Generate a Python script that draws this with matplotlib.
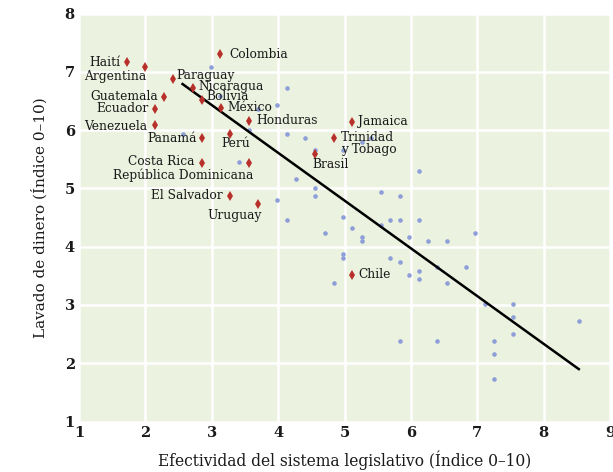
import matplotlib
matplotlib.use("Agg")
import matplotlib.pyplot as plt

# named countries (red diamonds)
paises = ["Haití", "Argentina", "Paraguay", "Nicaragua", "Bolivia", "México",
          "Colombia", "Guatemala", "Ecuador", "Venezuela", "Honduras", "Panamá",
          "Perú", "Costa Rica", "República Dominicana", "El Salvador", "Uruguay",
          "Jamaica", "Trinidad\ny Tobago", "Brasil", "Chile"]
paises_x = [1.72, 1.99, 2.42, 2.71, 2.85, 3.14, 3.13, 2.28, 2.14, 2.14, 3.56, 2.85,
            3.27, 2.85, 3.56, 3.27, 3.70, 5.12, 4.84, 4.55, 5.12]
paises_y = [7.16, 7.08, 6.87, 6.73, 6.52, 6.38, 7.30, 6.57, 6.37, 6.08, 6.16, 5.87,
            5.93, 5.44, 5.44, 4.87, 4.73, 6.14, 5.87, 5.59, 3.52]

# other countries (blue dots)
otros_x = [2.99, 4.13, 3.98, 3.69, 3.12, 2.56, 3.56, 4.13, 4.41, 4.55, 3.41, 4.27,
           4.55, 4.55, 3.98, 4.13, 4.98, 5.12, 5.27, 4.97, 5.40, 5.55, 5.83, 6.12,
           5.55, 5.69, 5.83, 6.12, 4.70, 5.26, 5.26, 5.97, 6.26, 6.54, 6.97, 4.98,
           4.98, 5.69, 5.83, 5.97, 6.12, 6.12, 6.54, 6.40, 6.83, 4.84, 7.11, 7.54,
           7.54, 7.54, 8.53, 5.83, 6.40, 7.25, 7.25, 7.25]
otros_y = [7.08, 6.72, 6.43, 6.36, 6.58, 5.94, 6.01, 5.94, 5.87, 5.66, 5.45, 5.16,
           5.01, 4.87, 4.80, 4.45, 4.51, 4.32, 5.79, 5.66, 5.87, 4.94, 4.87, 5.30,
           4.37, 4.45, 4.45, 4.45, 4.23, 4.16, 4.09, 4.16, 4.09, 4.09, 4.23, 3.87,
           3.80, 3.80, 3.73, 3.51, 3.58, 3.44, 3.37, 3.66, 3.66, 3.37, 3.02, 3.02,
           2.80, 2.51, 2.73, 2.38, 2.38, 2.38, 2.16, 1.73]

# fitted line end points
recta_x = [2.56, 8.53]
recta_y = [6.79, 1.90]

# label offsets in pixels and alignment
offsets = {
    "Haití": (-6, 0, "right", "center"),
    "Argentina": (2, -9, "right", "center"),
    "Paraguay": (3, 4, "left", "center"),
    "Nicaragua": (6, 1, "left", "center"),
    "Bolivia": (5, 3, "left", "center"),
    "México": (6, 0, "left", "center"),
    "Colombia": (9, 0, "left", "center"),
    "Guatemala": (-6, 0, "right", "center"),
    "Ecuador": (-6, 0, "right", "center"),
    "Venezuela": (-7, -1, "right", "center"),
    "Honduras": (7, 0, "left", "center"),
    "Panamá": (-5, -1, "right", "center"),
    "Perú": (-8, -9, "left", "center"),
    "Costa Rica": (-7, 1, "right", "center"),
    "República Dominicana": (4, -13, "right", "center"),
    "El Salvador": (-7, 0, "right", "center"),
    "Uruguay": (4, -11, "right", "center"),
    "Jamaica": (6, 0, "left", "center"),
    "Trinidad\ny Tobago": (7, 7, "left", "top"),
    "Brasil": (-2, -10, "left", "center"),
    "Chile": (6, 0, "left", "center"),
}

plt.rcParams['font.family'] = ['DejaVu Serif']

fig = plt.figure(figsize=(6.13, 4.72), dpi=100)
ax = fig.add_axes([79 / 613, 1 - 421.6 / 472, (610 - 79) / 613, (421.6 - 13.5) / 472])
ax.set_facecolor('#EBF2DF')
ax.set_xlim(1, 9)
ax.set_ylim(1, 8)
ax.set_xticks(range(1, 10))
ax.set_yticks(range(1, 9))
ax.grid(True, color='white', linewidth=1.8)
ax.set_axisbelow(True)
for s in ax.spines.values():
    s.set_visible(False)
ax.tick_params(length=0, labelsize=10.5, pad=3, labelcolor='#1a1a1a')
for lab in ax.get_xticklabels() + ax.get_yticklabels():
    lab.set_fontweight('bold')

ax.plot(otros_x, otros_y, 'o', color='#8E9ED9', markersize=3.3, markeredgewidth=0, zorder=3)
ax.plot(recta_x, recta_y, color='black', linewidth=1.8, zorder=4)
ax.plot(paises_x, paises_y, 'd', color='#B8302B', markersize=5.2, markeredgewidth=0, zorder=5)

for nombre, px, py in zip(paises, paises_x, paises_y):
    dx, dy, ha, va = offsets[nombre]
    ax.annotate(nombre, (px, py), xytext=(dx, dy), textcoords='offset pixels',
                ha=ha, va=va, fontsize=8.8, color='#1a1a1a', linespacing=0.95,
                zorder=6)

ax.set_xlabel("Efectividad del sistema legislativo (Índice 0–10)", fontsize=11.2,
              color='#1a1a1a', labelpad=8)
ax.set_ylabel("Lavado de dinero (Índice 0–10)", fontsize=11, color='#1a1a1a',
              labelpad=12)

fig.savefig("out.png", dpi=100)
